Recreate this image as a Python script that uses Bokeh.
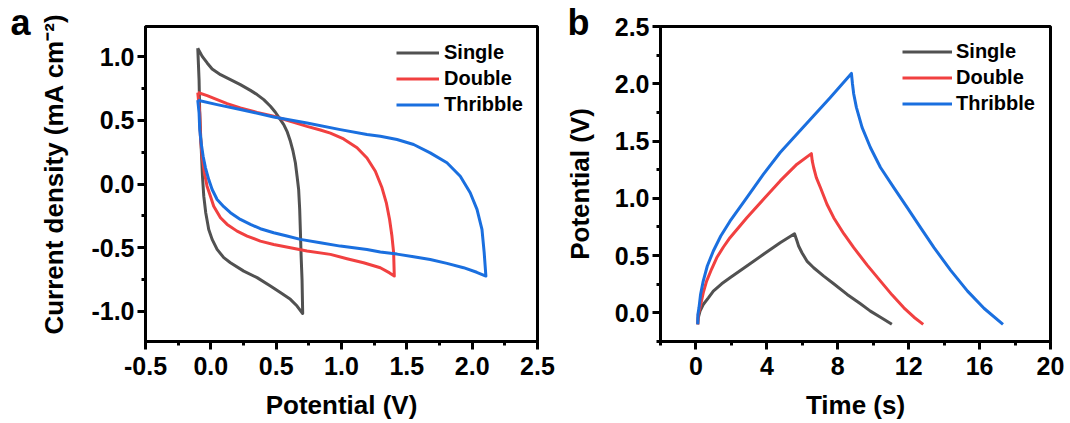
import numpy as np
from bokeh.plotting import figure
from bokeh.models import SingleIntervalTicker, Range1d, Legend, LegendItem, PrintfTickFormatter, Title
from bokeh.layouts import row
from bokeh.embed import file_html
from bokeh.resources import INLINE

# ---------------- Panel a: CV curves ----------------
single_cv_v = [-0.1, -0.066, -0.028, 0.010, 0.074, 0.150, 0.226, 0.303, 0.354, 0.405, 0.456, 0.494, 0.532,
               0.558, 0.583, 0.609, 0.629, 0.647, 0.660, 0.672, 0.680, 0.685, 0.691, 0.698, 0.703,
               0.660, 0.609, 0.532, 0.456, 0.354, 0.252, 0.150, 0.099, 0.048, 0.010, -0.016, -0.039,
               -0.054, -0.064, -0.072, -0.080, -0.085, -0.090, -0.1]
single_cv_i = [1.07, 1.005, 0.953, 0.906, 0.861, 0.822, 0.782, 0.737, 0.704, 0.664, 0.612, 0.565, 0.507,
               0.468, 0.415, 0.336, 0.258, 0.167, 0.061, -0.043, -0.200, -0.358, -0.568, -0.751, -1.02,
               -0.961, -0.908, -0.855, -0.803, -0.737, -0.686, -0.620, -0.580, -0.515, -0.436, -0.358, -0.226,
               -0.096, 0.061, 0.245, 0.428, 0.56, 0.82, 1.07]

double_cv_v = [-0.1, -0.028, 0.048, 0.125, 0.226, 0.354, 0.481, 0.609, 0.736, 0.838, 0.915, 1.016, 1.119, 1.195,
               1.259, 1.310, 1.343, 1.368, 1.386, 1.399, 1.404,
               1.368, 1.297, 1.169, 1.042, 0.915, 0.736, 0.609, 0.481, 0.379, 0.278, 0.201, 0.125,
               0.074, 0.022, -0.003, -0.029, -0.049, -0.067, -0.080, -0.085, -0.1]
double_cv_i = [0.72, 0.696, 0.664, 0.633, 0.599, 0.564, 0.533, 0.494, 0.454, 0.425, 0.400, 0.355, 0.285, 0.205,
               0.100, -0.030, -0.148, -0.279, -0.41, -0.541, -0.725,
               -0.700, -0.659, -0.620, -0.588, -0.554, -0.528, -0.502, -0.476, -0.450, -0.410, -0.371, -0.318,
               -0.266, -0.175, -0.096, -0.017, 0.088, 0.219, 0.376, 0.56, 0.72]

thribble_cv_v = [-0.1, 0.048, 0.226, 0.481, 0.736, 0.991, 1.195, 1.297, 1.425, 1.552, 1.679, 1.807, 1.909,
                 1.985, 2.037, 2.075, 2.092, 2.105,
                 2.035, 1.934, 1.807, 1.679, 1.552, 1.425, 1.297, 1.195, 0.991, 0.838, 0.685, 0.583, 0.481,
                 0.379, 0.303, 0.226, 0.150, 0.099, 0.048, 0.010, -0.016, -0.041, -0.059, -0.074, -0.085, -0.090, -0.1]
thribble_cv_i = [0.66, 0.625, 0.586, 0.528, 0.481, 0.428, 0.389, 0.376, 0.350, 0.311, 0.245, 0.167, 0.061,
                 -0.069, -0.200, -0.358, -0.541, -0.725,
                 -0.695, -0.659, -0.625, -0.594, -0.572, -0.552, -0.536, -0.515, -0.489, -0.462, -0.436, -0.410, -0.384,
                 -0.352, -0.318, -0.279, -0.226, -0.179, -0.122, -0.043, 0.035, 0.127, 0.219, 0.324, 0.428, 0.56, 0.66]

# ---------------- Panel b: GCD curves ----------------
single_t = [0.1, 0.13, 0.23, 0.41, 0.70, 0.98, 1.45, 1.92, 2.87, 3.81, 4.75, 5.56,
            5.70, 5.79, 5.98, 6.26, 6.64, 7.21, 7.77, 8.53, 9.28, 9.84, 10.41, 11.05]
single_u = [-0.1, -0.044, 0.015, 0.073, 0.131, 0.19, 0.254, 0.306, 0.409, 0.511, 0.612, 0.69,
            0.627, 0.584, 0.525, 0.452, 0.394, 0.321, 0.254, 0.161, 0.079, 0.015, -0.038, -0.1]

double_t = [0.1, 0.13, 0.27, 0.41, 0.60, 0.89, 1.17, 1.55, 1.92, 2.87, 3.81, 4.75, 5.70, 6.51,
            6.56, 6.64, 6.79, 7.02, 7.39, 7.77, 8.34, 8.90, 9.66, 10.41, 11.07, 11.73, 12.30, 12.82]
double_u = [-0.1, -0.014, 0.073, 0.175, 0.277, 0.385, 0.481, 0.575, 0.656, 0.831, 0.992, 1.152, 1.298, 1.39,
            1.327, 1.269, 1.181, 1.094, 0.948, 0.831, 0.691, 0.569, 0.417, 0.277, 0.155, 0.044, -0.038, -0.1]

thribble_t = [0.1, 0.11, 0.17, 0.26, 0.41, 0.64, 0.98, 1.40, 1.92, 2.87, 3.81, 4.75, 5.70, 6.64, 7.58, 8.77,
              8.83, 8.90, 9.05, 9.37, 9.84, 10.41, 11.16, 11.92, 12.67, 13.43, 14.37, 15.32, 16.26, 17.32]
thribble_u = [-0.1, -0.014, 0.044, 0.161, 0.277, 0.409, 0.54, 0.671, 0.80, 1.006, 1.211, 1.40, 1.561, 1.721, 1.881, 2.09,
              1.998, 1.911, 1.794, 1.619, 1.444, 1.269, 1.094, 0.919, 0.744, 0.569, 0.371, 0.19, 0.038, -0.1]

series_names = ["Single", "Double", "Thribble"]
colors = ["#515151", "#F14040", "#1A6FDF"]

FONT = "Liberation Sans"


def style(p, xint, yint, xfmt, yfmt):
    p.xgrid.visible = False
    p.ygrid.visible = False
    p.outline_line_color = "black"
    p.outline_line_width = 3
    p.outline_line_alpha = 1
    p.background_fill_color = "white"
    p.border_fill_color = "white"
    p.xaxis.ticker = SingleIntervalTicker(interval=xint, num_minor_ticks=2)
    p.yaxis.ticker = SingleIntervalTicker(interval=yint, num_minor_ticks=2)
    p.xaxis.formatter = PrintfTickFormatter(format=xfmt)
    p.yaxis.formatter = PrintfTickFormatter(format=yfmt)
    for axl in (p.xaxis, p.yaxis):
        axl.axis_line_width = 3
        axl.axis_line_color = "black"
        axl.major_tick_line_width = 3
        axl.minor_tick_line_width = 3
        axl.major_tick_out = 8
        axl.major_tick_in = 0
        axl.minor_tick_out = 4
        axl.minor_tick_in = 0
        axl.major_label_text_font = FONT
        axl.major_label_text_font_style = "bold"
        axl.major_label_text_font_size = "25px"
        axl.major_label_text_color = "black"
        axl.axis_label_text_font = FONT
        axl.axis_label_text_font_style = "bold"
        axl.axis_label_text_font_size = "26px"
        axl.axis_label_text_color = "black"
    p.xaxis.major_label_standoff = 7
    p.yaxis.major_label_standoff = 3
    p.xaxis.axis_label_standoff = 12
    p.yaxis.axis_label_standoff = 17


def add_legend(p, renderers, loc, gw, standoff):
    items = [LegendItem(label=n, renderers=[r]) for n, r in zip(series_names, renderers)]
    lg = Legend(items=items, location=loc, glyph_width=gw, glyph_height=23, label_height=23,
                spacing=3, padding=0, margin=0, label_standoff=standoff,
                border_line_alpha=0, background_fill_alpha=0,
                label_text_font=FONT, label_text_font_style="bold", label_text_font_size="20px",
                label_text_color="black")
    p.add_layout(lg)


def panel_letter(p, letter, offset):
    p.add_layout(Title(text=letter, align="left", offset=offset, standoff=-33,
                       text_font=FONT, text_font_style="bold", text_font_size="36px",
                       text_color="black"), "above")


# Panel a
pa = figure(width=560, height=423, x_range=Range1d(-0.5, 2.5), y_range=Range1d(-1.24, 1.24),
            min_border_left=145, min_border_right=23, min_border_top=26, min_border_bottom=82,
            output_backend="svg", toolbar_location=None)
style(pa, 0.5, 0.5, "%.1f", "%.1f")
pa.xaxis.axis_label = "Potential (V)"
pa.add_layout(Title(text="Current density (mA cm\u207b\u00b2)", align="right", offset=-13, standoff=40,
                    text_font=FONT, text_font_style="bold", text_font_size="26px",
                    text_color="black"), "left")
ra = []
for xs, ys, c in zip([single_cv_v, double_cv_v, thribble_cv_v], [single_cv_i, double_cv_i, thribble_cv_i], colors):
    ra.append(pa.line(xs, ys, line_color=c, line_width=3, line_join="round"))
add_legend(pa, ra, (251, 225), 43, 5)
panel_letter(pa, "a", -135)

# Panel b
pb = figure(width=510, height=423, x_range=Range1d(-2, 20), y_range=Range1d(-0.25, 2.5),
            min_border_left=100, min_border_right=20, min_border_top=26, min_border_bottom=82,
            output_backend="svg", toolbar_location=None)
style(pb, 4, 0.5, "%d", "%.1f")
pb.xaxis.axis_label = "Time (s)"
pb.yaxis.axis_label = "Potential (V)"
rb = []
for xs, ys, c in zip([single_t, double_t, thribble_t], [single_u, double_u, thribble_u], colors):
    rb.append(pb.line(xs, ys, line_color=c, line_width=3, line_join="round"))
add_legend(pb, rb, (242, 226), 50, 4)
panel_letter(pb, "b", -93)

layout = row(pa, pb)
open("out.html", "w").write(file_html(layout, INLINE))
